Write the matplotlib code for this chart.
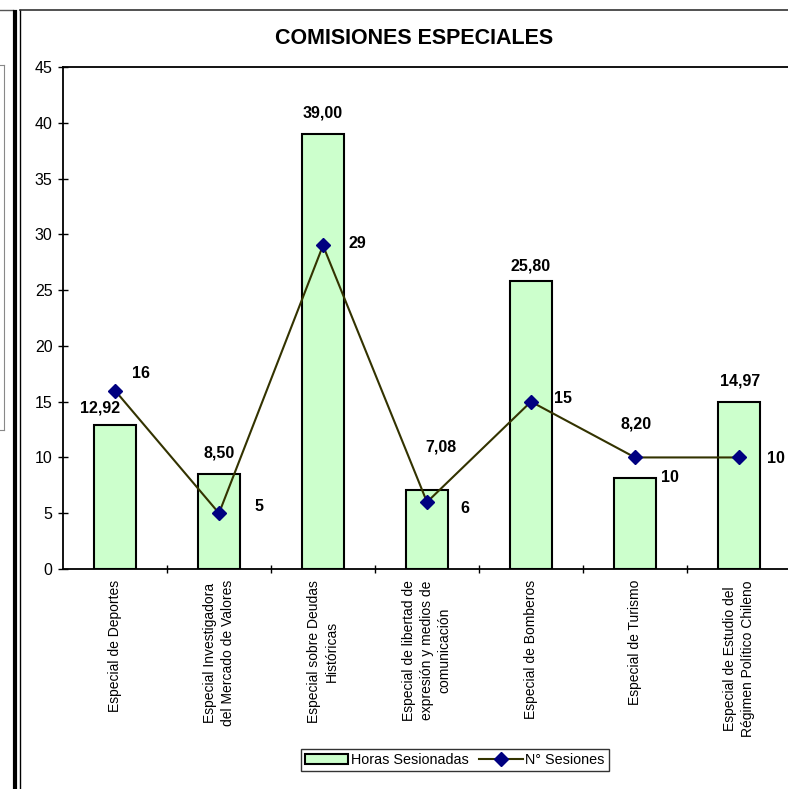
import matplotlib
matplotlib.use("Agg")
import matplotlib.pyplot as plt
from matplotlib.lines import Line2D
import numpy as np

plt.rcParams['font.family'] = ['Liberation Sans', 'DejaVu Sans']

categories = [
    "Especial de Deportes",
    "Especial Investigadora\ndel Mercado de Valores",
    "Especial sobre Deudas\nHistóricas",
    "Especial de libertad de\nexpresión y medios de\ncomunicación",
    "Especial de Bomberos",
    "Especial de Turismo",
    "Especial de Estudio del\nRégimen Político Chileno",
]
horas = [12.92, 8.50, 39.00, 7.08, 25.80, 8.20, 14.97]
sesiones = [16, 5, 29, 6, 15, 10, 10]
horas_labels = ["12,92", "8,50", "39,00", "7,08", "25,80", "8,20", "14,97"]
sesiones_labels = ["16", "5", "29", "6", "15", "10", "10"]
yticks = [0, 5, 10, 15, 20, 25, 30, 35, 40, 45]

# label offsets in pixels (style only)
bar_off = [(-15, 17), (0, 21), (0, 21), (14, 43), (0, 15), (1, 54), (1, 21)]
line_off = [(26, 17), (40, 7), (34, 2), (38, -6), (32, 3), (35, -20), (37, -1)]

W, H = 788, 789
fig = plt.figure(figsize=(W / 100, H / 100), dpi=100)

# decorative frames (neighbouring chart remnants and chart area border)
def vline(x, y0, y1, lw, color):
    fig.add_artist(Line2D([x / W, x / W], [1 - y0 / H, 1 - y1 / H], lw=lw, color=color,
                          transform=fig.transFigure))

def hline(y, x0, x1, lw, color):
    fig.add_artist(Line2D([x0 / W, x1 / W], [1 - y / H, 1 - y / H], lw=lw, color=color,
                          transform=fig.transFigure))

hline(10, 0, 13, 1.0, '#555555')
vline(14.5, 12, H, 3.0, 'black')
vline(19.5, 10, H, 1.0, 'black')
hline(10, 19.5, W, 1.2, '#333333')
vline(3.5, 65, 430, 0.8, '#888888')
hline(65, 0, 3.5, 0.8, '#888888')
hline(430, 0, 3.5, 0.8, '#888888')

ax_left, ax_right, ax_top, ax_bottom = 63, 791, 67, 569
ax = fig.add_axes([ax_left / W, 1 - ax_bottom / H, (ax_right - ax_left) / W,
                   (ax_bottom - ax_top) / H])

x = np.arange(len(categories))
bars = ax.bar(x, horas, width=0.4, color='#CCFFCC', edgecolor='black', linewidth=1.5,
              zorder=2, label='Horas Sesionadas')
line, = ax.plot(x, sesiones, color='#333300', lw=1.5, marker='D', markersize=7.5,
                markerfacecolor='#000080', markeredgecolor='#000080', zorder=3,
                label='N° Sesiones')

for i in range(len(x)):
    ax.annotate(horas_labels[i], (x[i], horas[i]), xytext=bar_off[i],
                textcoords='offset pixels', ha='center', va='center',
                fontsize=11.5, fontweight='bold')
    ax.annotate(sesiones_labels[i], (x[i], sesiones[i]), xytext=line_off[i],
                textcoords='offset pixels', ha='center', va='center',
                fontsize=11.5, fontweight='bold')

ax.set_xlim(-0.5, len(categories) - 0.5)
ax.set_ylim(0, 45)
ax.set_yticks(yticks)
ax.set_yticklabels([str(v) for v in yticks], fontsize=11.5)
ax.tick_params(axis='y', direction='inout', length=7, width=1, pad=4)

ax.set_xticks(np.arange(len(categories) - 1) + 0.5)
ax.set_xticklabels([])
ax.tick_params(axis='x', direction='inout', length=6, width=1)
ax.set_xticks(x, minor=True)
ax.set_xticklabels(categories, minor=True, rotation=90, ha='center', va='top',
                   multialignment='center', fontsize=10, linespacing=1.35)
ax.tick_params(axis='x', which='minor', length=0, pad=8)

for s in ax.spines.values():
    s.set_linewidth(1.3)

fig.text(414 / W, 1 - 38 / H, "COMISIONES ESPECIALES", ha='center', va='center',
         fontsize=15.5, fontweight='bold')

leg = fig.legend(handles=[bars, line], loc='center', bbox_to_anchor=(455 / W, 1 - 760 / H),
                 ncol=2, frameon=True, fancybox=False, fontsize=10.4, handlelength=3,
                 handleheight=0.7, columnspacing=0.7, handletextpad=0.2,
                 borderpad=0.3, borderaxespad=0)
leg.get_frame().set_edgecolor('black')
leg.get_frame().set_linewidth(1.0)

fig.savefig('out.png', dpi=100)
